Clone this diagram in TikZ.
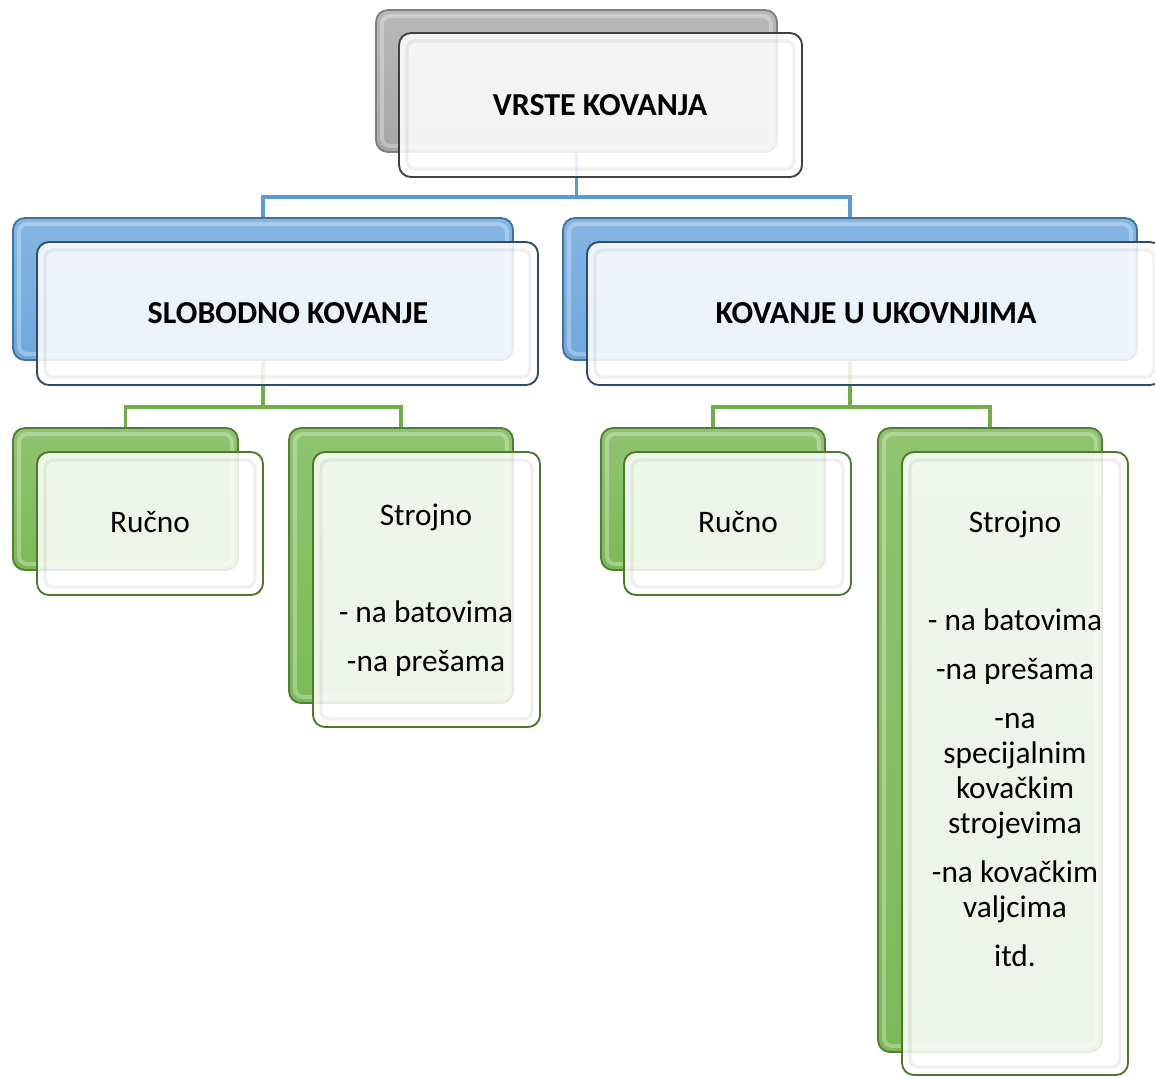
\documentclass[tikz,border=0pt]{standalone}
\usepackage{fontspec}
\setmainfont{Carlito}
\usetikzlibrary{fit,backgrounds}
\definecolor{grayB}{HTML}{A6A6A6}
\definecolor{grayBd}{HTML}{7F7F7F}
\definecolor{grayF}{HTML}{404040}
\definecolor{blueB}{HTML}{6FA8DC}
\definecolor{blueBd}{HTML}{41719C}
\definecolor{blueF}{HTML}{2B4C70}
\definecolor{greenB}{HTML}{7CB957}
\definecolor{greenBd}{HTML}{507E32}
\definecolor{greenF}{HTML}{4A7A2A}
\definecolor{blueL}{HTML}{5B9BD5}
\definecolor{greenL}{HTML}{70AD47}
\newcommand\mkback[6]{\node[#6, fit={(#2,#3) (#4,#5)}, inner sep=0pt] (#1) {};
  \draw[backbevel] ([shift={(7,7)}]#1.north west) rectangle ([shift={(-7,-7)}]#1.south east);}
\newcommand\mkfront[6]{\node[#6, fit={(#2,#3) (#4,#5)}, inner sep=0pt] (#1) {};
  \draw[frontbevel] ([shift={(9,9)}]#1.north west) rectangle ([shift={(-9,-9)}]#1.south east);}
\begin{document}
\begin{tikzpicture}[x=0.75pt,y=-0.75pt,
  boxbase/.style={rounded corners=9pt, line width=1.4pt},
  grayback/.style={boxbase, draw=grayBd, top color=grayB!80!white, bottom color=grayB},
  blueback/.style={boxbase, draw=blueBd, top color=blueB!85!white, bottom color=blueB},
  greenback/.style={boxbase, draw=greenBd, top color=greenB!85!white, bottom color=greenB},
  backbevel/.style={rounded corners=6pt, draw=white, draw opacity=0.3, line width=3pt},
  frontbevel/.style={rounded corners=6pt, draw=black, draw opacity=0.06, line width=2.5pt},
  front/.style={boxbase, fill=white, fill opacity=0.86, draw opacity=1},
  grayfront/.style={front, draw=grayF},
  bluefront/.style={front, draw=blueF},
  greenfront/.style={front, draw=greenF},
  blink/.style={draw=blueL, line width=2.3pt},
  glink/.style={draw=greenL, line width=2.3pt},
  txt/.style={anchor=base, inner sep=0pt, font=\fontsize{23.5}{28}\selectfont},
  head/.style={txt, font=\fontsize{24}{28}\selectfont\bfseries}]
\useasboundingbox (0,0) rectangle (1155,1076);
% level 0
\mkback{topB}{376}{10}{777}{152}{grayback}
\mkfront{topF}{399}{33}{802}{177}{grayfront}
% level 1
\mkback{slB}{13}{218}{513}{360}{blueback}
\mkfront{slF}{37}{242}{538}{385}{bluefront}
\mkback{kuB}{563}{218}{1137}{360}{blueback}
\mkfront{kuF}{587}{242}{1162}{385}{bluefront}
% level 2
\mkback{rLB}{13}{428}{238}{570}{greenback}
\mkfront{rLF}{37}{452}{263}{595}{greenfront}
\mkback{sLB}{289}{428}{513}{703}{greenback}
\mkfront{sLF}{313}{452}{540}{727}{greenfront}
\mkback{rRB}{601}{428}{825}{570}{greenback}
\mkfront{rRF}{624}{452}{851}{595}{greenfront}
\mkback{sRB}{878}{428}{1102}{1052}{greenback}
\mkfront{sRF}{902}{452}{1128}{1075}{greenfront}
% connectors
\coordinate (y1) at (0,197);
\coordinate (y2) at (0,407);
\begin{pgfonlayer}{background}
\draw[blink] (topB.south) -- (topB.south |- y1) -| (slB.north);
\draw[blink] (topB.south |- y1) -| (kuB.north);
\draw[glink] (slB.south) -- (slB.south |- y2) -| (rLB.north);
\draw[glink] (slB.south |- y2) -| (sLB.north);
\draw[glink] (kuB.south) -- (kuB.south |- y2) -| (rRB.north);
\draw[glink] (kuB.south |- y2) -| (sRB.north);
\end{pgfonlayer}
% texts
\node[head] (t0) at (600,115) {VRSTE KOVANJA};
\node[head] (t1) at (288,323) {SLOBODNO KOVANJE};
\node[head] (t2) at (876,323) {KOVANJE U UKOVNJIMA};
\node[txt] (a1) at (150,532) {Ručno};
\node[txt] (b1) at (426,525) {Strojno};
\node[txt] (b2) at (426,622) {- na batovima};
\node[txt] (b3) at (426,671) {-na prešama};
\node[txt] (c1) at (738,532) {Ručno};
\node[txt] (d1) at (1015,532) {Strojno};
\node[txt] (d2) at (1015,630) {- na batovima};
\node[txt] (d3) at (1015,679) {-na prešama};
\node[txt] (d4) at (1015,728) {-na};
\node[txt] (d5) at (1015,763) {specijalnim};
\node[txt] (d6) at (1015,798) {kovačkim};
\node[txt] (d7) at (1015,833) {strojevima};
\node[txt] (d8) at (1015,882) {-na kovačkim};
\node[txt] (d9) at (1015,917) {valjcima};
\node[txt] (d10) at (1015,966) {itd.};
\end{tikzpicture}
\end{document}
